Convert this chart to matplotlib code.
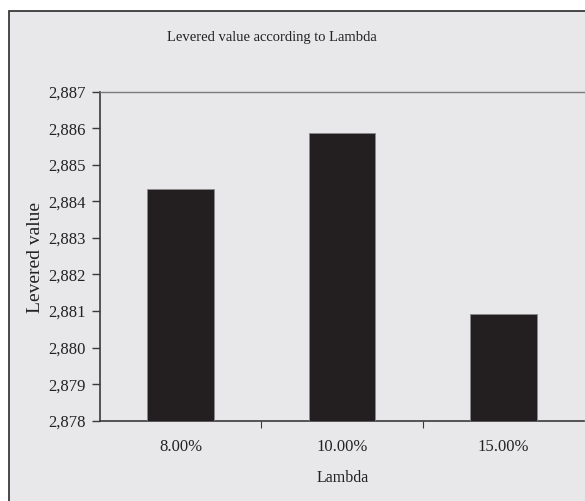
import matplotlib
matplotlib.use("Agg")
import matplotlib.pyplot as plt
from matplotlib.patches import Rectangle
from matplotlib.ticker import FuncFormatter, FixedLocator

lambdas = ["8.00%", "10.00%", "15.00%"]
levered_values = [2884.35, 2885.86, 2880.91]
y_ticks = list(range(2878, 2888))

W, H = 585, 501
plt.rcParams["font.family"] = ["Liberation Serif", "DejaVu Serif"]

fig = plt.figure(figsize=(W / 100, H / 100), dpi=100)
fig.patch.set_facecolor("white")

# chart area frame, clipped at the right and bottom edges
frame = Rectangle((8.5 / W, -0.1), 1.2, 1 - 10.5 / H + 0.1,
                  transform=fig.transFigure, facecolor="#e8e8ea",
                  edgecolor="#3a3a3a", linewidth=1.3, zorder=-10)
fig.patches.append(frame)

left, right = 100 / W, 584 / W
top, bottom = 1 - 91.7 / H, 1 - 420.7 / H
ax = fig.add_axes([left, bottom, right - left, top - bottom])
ax.set_facecolor("none")

x = range(len(lambdas))
ax.bar(x, [v - y_ticks[0] for v in levered_values], bottom=y_ticks[0],
       width=0.415, color="#231f20", edgecolor="#8a8a8a", linewidth=0.6, zorder=3)

ax.set_xlim(-0.5, len(lambdas) - 0.5)
ax.set_ylim(y_ticks[0], y_ticks[-1])
ax.set_yticks(y_ticks)
ax.yaxis.set_major_formatter(FuncFormatter(lambda v, p: f"{int(v):,}"))
ax.tick_params(axis="y", direction="out", length=6, width=1, color="#3a3a3a",
               labelsize=12, pad=4, labelcolor="#222222")

# category labels centered, ticks on category boundaries
ax.xaxis.set_major_locator(FixedLocator([0.5, 1.5]))
ax.xaxis.set_major_formatter(FuncFormatter(lambda v, p: ""))
ax.tick_params(axis="x", direction="out", length=5, width=0.8, color="#3a3a3a")
for i, lab in enumerate(lambdas):
    ax.text(i, -(447 - 420.7) / (420.7 - 91.7), lab,
            transform=ax.get_xaxis_transform(),
            ha="center", va="center", fontsize=12, color="#222222")

ax.spines["right"].set_visible(False)
ax.spines["top"].set_color("#7a7a7a")
ax.spines["top"].set_linewidth(1)
for s in ["left", "bottom"]:
    ax.spines[s].set_color("#3a3a3a")
    ax.spines[s].set_linewidth(1.2)

fig.text(271.5 / W, 1 - 38 / H, "Levered value according to Lambda",
         ha="center", va="center", fontsize=10.5, color="#222222")
fig.text(343 / W, 1 - 478 / H, "Lambda", ha="center", va="center",
         fontsize=11.5, color="#222222")
fig.text(35 / W, 1 - 257.5 / H, "Levered value", ha="center", va="center",
         rotation=90, fontsize=14, color="#222222")

fig.savefig("out.png", dpi=100)
